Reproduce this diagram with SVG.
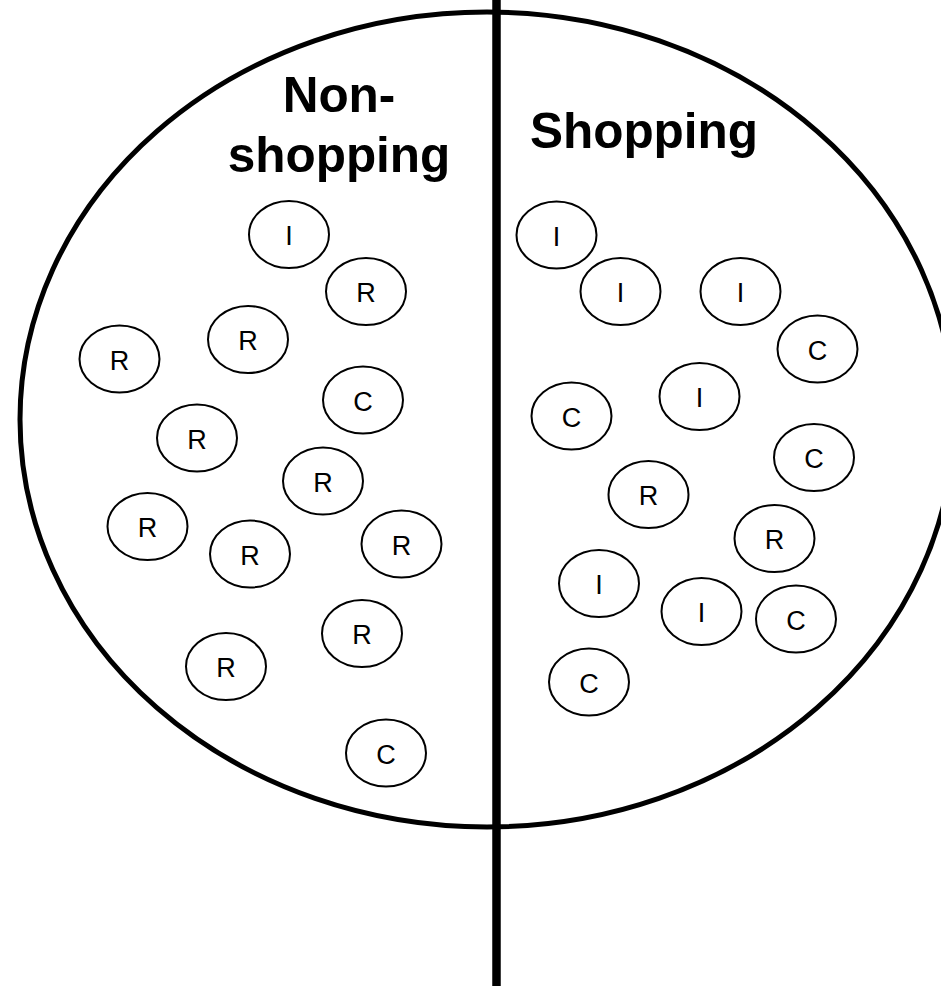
<svg xmlns="http://www.w3.org/2000/svg" width="941" height="986" viewBox="0 0 941 986">
<style>
.big{fill:none;stroke:#000;stroke-width:5}
.n ellipse{fill:#fff;stroke:#000;stroke-width:2}
.n text{font-family:"Liberation Sans",Arial,sans-serif;font-size:27px;text-anchor:middle;fill:#000}
.title{font-family:"Liberation Sans",Arial,sans-serif;font-size:49.5px;font-weight:bold;text-anchor:middle;fill:#000}
</style>
<rect width="941" height="986" fill="#fff"/>
<g id="region">
<ellipse class="big" cx="487" cy="419.5" rx="467" ry="407.5"/>
</g>
<g id="divider">
<line x1="496.5" y1="0" x2="496.5" y2="986" stroke="#000" stroke-width="8.5"/>
</g>
<g id="titles">
<text class="title" x="339" y="112">Non-</text>
<text class="title" x="339" y="172">shopping</text>
<text class="title" x="644" y="148">Shopping</text>
</g>
<g id="connectors"></g>
<g id="n1" class="n"><ellipse cx="289" cy="234.5" rx="40" ry="33.5"/><text x="289" y="245">I</text></g>
<g id="n2" class="n"><ellipse cx="366" cy="291.5" rx="40" ry="33.5"/><text x="366" y="302">R</text></g>
<g id="n3" class="n"><ellipse cx="248" cy="339.5" rx="40" ry="33.5"/><text x="248" y="350">R</text></g>
<g id="n4" class="n"><ellipse cx="119.5" cy="359" rx="40" ry="33.5"/><text x="119.5" y="369.5">R</text></g>
<g id="n5" class="n"><ellipse cx="363" cy="400" rx="40" ry="33.5"/><text x="363" y="410.5">C</text></g>
<g id="n6" class="n"><ellipse cx="197" cy="438" rx="40" ry="33.5"/><text x="197" y="448.5">R</text></g>
<g id="n7" class="n"><ellipse cx="323" cy="481" rx="40" ry="33.5"/><text x="323" y="491.5">R</text></g>
<g id="n8" class="n"><ellipse cx="147.5" cy="526.5" rx="40" ry="33.5"/><text x="147.5" y="537">R</text></g>
<g id="n9" class="n"><ellipse cx="250" cy="554" rx="40" ry="33.5"/><text x="250" y="564.5">R</text></g>
<g id="n10" class="n"><ellipse cx="401.5" cy="544" rx="40" ry="33.5"/><text x="401.5" y="554.5">R</text></g>
<g id="n11" class="n"><ellipse cx="362" cy="633.5" rx="40" ry="33.5"/><text x="362" y="644">R</text></g>
<g id="n12" class="n"><ellipse cx="226" cy="666.5" rx="40" ry="33.5"/><text x="226" y="677">R</text></g>
<g id="n13" class="n"><ellipse cx="386" cy="753" rx="40" ry="33.5"/><text x="386" y="763.5">C</text></g>
<g id="n14" class="n"><ellipse cx="556.5" cy="235" rx="40" ry="33.5"/><text x="556.5" y="245.5">I</text></g>
<g id="n15" class="n"><ellipse cx="620.5" cy="291.5" rx="40" ry="33.5"/><text x="620.5" y="302">I</text></g>
<g id="n16" class="n"><ellipse cx="740.5" cy="291.5" rx="40" ry="33.5"/><text x="740.5" y="302">I</text></g>
<g id="n17" class="n"><ellipse cx="817.5" cy="349" rx="40" ry="33.5"/><text x="817.5" y="359.5">C</text></g>
<g id="n18" class="n"><ellipse cx="699.5" cy="396.5" rx="40" ry="33.5"/><text x="699.5" y="407">I</text></g>
<g id="n19" class="n"><ellipse cx="571.5" cy="416" rx="40" ry="33.5"/><text x="571.5" y="426.5">C</text></g>
<g id="n20" class="n"><ellipse cx="814" cy="457.5" rx="40" ry="33.5"/><text x="814" y="468">C</text></g>
<g id="n21" class="n"><ellipse cx="648.5" cy="494.5" rx="40" ry="33.5"/><text x="648.5" y="505">R</text></g>
<g id="n22" class="n"><ellipse cx="774.5" cy="538.5" rx="40" ry="33.5"/><text x="774.5" y="549">R</text></g>
<g id="n23" class="n"><ellipse cx="599" cy="583.5" rx="40" ry="33.5"/><text x="599" y="594">I</text></g>
<g id="n24" class="n"><ellipse cx="701.5" cy="611.5" rx="40" ry="33.5"/><text x="701.5" y="622">I</text></g>
<g id="n25" class="n"><ellipse cx="796" cy="619" rx="40" ry="33.5"/><text x="796" y="629.5">C</text></g>
<g id="n26" class="n"><ellipse cx="589" cy="682" rx="40" ry="33.5"/><text x="589" y="692.5">C</text></g>
</svg>
